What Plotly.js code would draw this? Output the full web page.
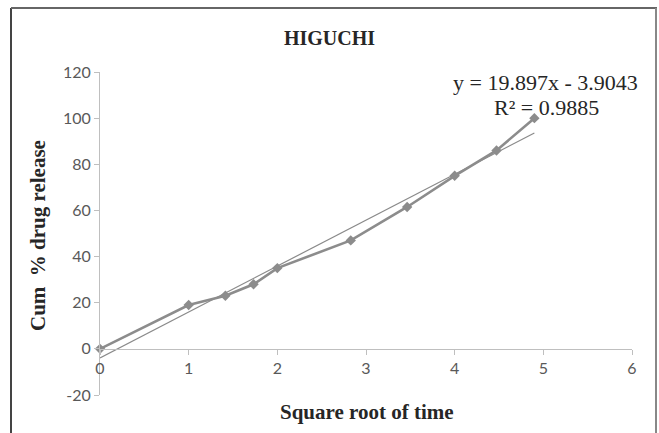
<!DOCTYPE html>
<html>
<head>
<meta charset="utf-8">
<script src="https://cdn.plot.ly/plotly-3.0.1.min.js"></script>
<style>html,body{margin:0;padding:0;background:#fff;}#chart{width:659px;height:433px;}</style>
</head>
<body>
<div id="chart"></div>
<script>
// Data (x = square root of time, y = cumulative % drug release)
const sqrtTime = [0, 1, 1.414, 1.732, 2, 2.828, 3.464, 4, 4.472, 4.899];
const cumRelease = [0, 19, 23, 28, 35, 47, 61.5, 75, 86, 100];
// Linear trendline reported on the chart
const trendSlope = 19.897;
const trendIntercept = -3.9043;
const trendR2 = 0.9885;
const xTicks = [0, 1, 2, 3, 4, 5, 6];
const yTicks = [-20, 0, 20, 40, 60, 80, 100, 120];
const yTickLabels = ['-20', '0', '20', '40', '60', '80', '100', '120'];

const trendX = [0, Math.max(...sqrtTime)];
const trendY = trendX.map(x => trendSlope * x + trendIntercept);

const L = 100, R = 27, T = 72, B = 38, W = 659, H = 433;
const pw = W - L - R, ph = H - T - B;
const px = x => (x - L) / pw;
const py = y => (H - B - y) / ph;

const traces = [
  {x: trendX, y: trendY, type: 'scatter', mode: 'lines',
   line: {color: '#8a8a8a', width: 1.2}, hoverinfo: 'skip', cliponaxis: false},
  {x: sqrtTime, y: cumRelease, type: 'scatter', mode: 'lines+markers',
   line: {color: '#8c8c8c', width: 2.6},
   marker: {symbol: 'diamond', size: 8, color: '#8c8c8c'}, cliponaxis: false}
];

const serif = '"Liberation Serif", "Times New Roman", serif';
const tickFont = {family: 'Lato, "Open Sans", sans-serif', size: 16, color: '#595959'};
const layout = {
  width: W, height: H,
  margin: {l: L, r: R, t: T, b: B},
  paper_bgcolor: '#fff', plot_bgcolor: '#fff',
  showlegend: false,
  title: {text: '<b>HIGUCHI</b>', font: {family: serif, size: 20, color: '#262626'},
          x: 0.5, xref: 'container', xanchor: 'center', y: 1 - 38/H, yref: 'container', yanchor: 'middle'},
  xaxis: {range: [0, 6], tickvals: xTicks, anchor: 'free', position: 20/140,
          showline: true, linecolor: '#bfbfbf', linewidth: 1, ticks: 'outside', ticklen: 5,
          tickcolor: '#bfbfbf', showgrid: false, zeroline: false, tickfont: tickFont},
  yaxis: {range: [-20, 120], tickvals: yTicks, ticktext: yTickLabels,
          showline: true, linecolor: '#bfbfbf', linewidth: 1, ticks: 'outside', ticklen: 5,
          tickcolor: '#bfbfbf', showgrid: false, zeroline: false, tickfont: tickFont},
  annotations: [
    {text: '<b>Square root of time</b>', xref: 'paper', yref: 'paper', x: px(367), y: py(412),
     showarrow: false, xanchor: 'center', yanchor: 'middle', font: {family: serif, size: 21, color: '#262626'}},
    {text: '<b>Cum  % drug release</b>', xref: 'paper', yref: 'paper', x: px(38), y: py(236),
     showarrow: false, textangle: -90, xanchor: 'center', yanchor: 'middle', font: {family: serif, size: 21, color: '#262626'}},
    {text: 'y = ' + trendSlope + 'x - ' + Math.abs(trendIntercept), xref: 'paper', yref: 'paper', x: px(545), y: py(82),
     showarrow: false, xanchor: 'center', yanchor: 'middle', font: {family: serif, size: 22, color: '#262626'}},
    {text: 'R² = ' + trendR2, xref: 'paper', yref: 'paper', x: px(546), y: py(108),
     showarrow: false, xanchor: 'center', yanchor: 'middle', font: {family: serif, size: 22, color: '#262626'}}
  ],
  shapes: [
    {type: 'line', xref: 'paper', yref: 'paper', x0: px(11), x1: px(11), y0: py(8), y1: py(440), line: {color: '#444', width: 2}},
    {type: 'line', xref: 'paper', yref: 'paper', x0: px(11), x1: px(657), y0: py(8), y1: py(8), line: {color: '#666', width: 2}},
    {type: 'line', xref: 'paper', yref: 'paper', x0: px(656), x1: px(656), y0: py(8), y1: py(440), line: {color: '#888', width: 2}}
  ]
};

Plotly.newPlot('chart', traces, layout, {staticPlot: true, displayModeBar: false});
</script>
</body>
</html>
